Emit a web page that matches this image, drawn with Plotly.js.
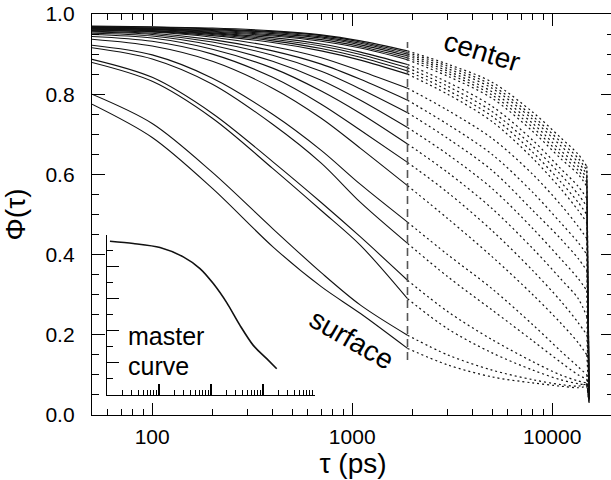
<!DOCTYPE html>
<html><head><meta charset="utf-8">
<script src="https://cdn.plot.ly/plotly-3.0.1.min.js"></script>
<style>html,body{margin:0;padding:0;overflow:hidden;background:#fff}#chart{width:616px;height:480px}</style>
</head><body><div id="chart"></div>
<script>
// ---- data ----
const TAU_SOLID = [50, 100, 200, 400, 700, 1100, 1890];
const TAU_DOTTED = [1890, 3000, 5000, 8000, 11000, 13500, 14900];
const TAU_END = [14900, 15300];

const PHI_SOLID = [
  [0.775, 0.692, 0.565, 0.420, 0.320, 0.253, 0.166],
  [0.800, 0.727, 0.605, 0.465, 0.355, 0.274, 0.199],
  [0.879, 0.832, 0.740, 0.615, 0.510, 0.423, 0.290],
  [0.887, 0.842, 0.752, 0.632, 0.530, 0.444, 0.336],
  [0.916, 0.888, 0.825, 0.725, 0.628, 0.530, 0.428],
  [0.922, 0.898, 0.840, 0.750, 0.660, 0.575, 0.481],
  [0.937, 0.920, 0.882, 0.815, 0.740, 0.665, 0.572],
  [0.944, 0.932, 0.900, 0.842, 0.775, 0.710, 0.630],
  [0.949, 0.940, 0.912, 0.865, 0.808, 0.752, 0.676],
  [0.952, 0.945, 0.922, 0.882, 0.835, 0.785, 0.717],
  [0.955, 0.949, 0.930, 0.897, 0.857, 0.813, 0.754],
  [0.957, 0.952, 0.936, 0.908, 0.875, 0.837, 0.785],
  [0.959, 0.955, 0.942, 0.919, 0.891, 0.858, 0.815],
  [0.960, 0.956, 0.946, 0.929, 0.908, 0.885, 0.850],
  [0.962, 0.958, 0.949, 0.933, 0.914, 0.892, 0.858],
  [0.963, 0.959, 0.951, 0.937, 0.920, 0.899, 0.866],
  [0.964, 0.961, 0.953, 0.941, 0.925, 0.905, 0.874],
  [0.965, 0.962, 0.955, 0.945, 0.932, 0.915, 0.886],
  [0.966, 0.963, 0.957, 0.948, 0.936, 0.919, 0.891],
  [0.967, 0.964, 0.959, 0.951, 0.940, 0.923, 0.896],
  [0.968, 0.965, 0.961, 0.954, 0.943, 0.927, 0.900],
  [0.969, 0.967, 0.963, 0.956, 0.946, 0.930, 0.904],
  [0.970, 0.968, 0.965, 0.958, 0.948, 0.933, 0.908]
];

const PHI_DOTTED = [
  [0.166, 0.125, 0.095, 0.080, 0.072, 0.068, 0.072],
  [0.199, 0.150, 0.112, 0.088, 0.076, 0.072, 0.078],
  [0.290, 0.215, 0.155, 0.112, 0.088, 0.078, 0.075],
  [0.336, 0.258, 0.188, 0.133, 0.100, 0.085, 0.080],
  [0.428, 0.345, 0.262, 0.185, 0.132, 0.100, 0.090],
  [0.481, 0.400, 0.315, 0.225, 0.160, 0.120, 0.100],
  [0.572, 0.490, 0.395, 0.300, 0.230, 0.180, 0.150],
  [0.630, 0.555, 0.460, 0.360, 0.285, 0.230, 0.200],
  [0.676, 0.605, 0.515, 0.415, 0.340, 0.290, 0.245],
  [0.717, 0.650, 0.565, 0.465, 0.390, 0.340, 0.310],
  [0.754, 0.690, 0.610, 0.510, 0.440, 0.390, 0.360],
  [0.785, 0.725, 0.650, 0.555, 0.480, 0.430, 0.400],
  [0.815, 0.760, 0.690, 0.600, 0.525, 0.470, 0.440],
  [0.850, 0.800, 0.732, 0.640, 0.565, 0.510, 0.480],
  [0.858, 0.810, 0.745, 0.655, 0.582, 0.530, 0.500],
  [0.866, 0.820, 0.757, 0.670, 0.600, 0.550, 0.520],
  [0.874, 0.830, 0.770, 0.685, 0.615, 0.570, 0.540],
  [0.886, 0.845, 0.790, 0.707, 0.640, 0.600, 0.570],
  [0.891, 0.852, 0.798, 0.717, 0.650, 0.610, 0.580],
  [0.896, 0.858, 0.806, 0.727, 0.660, 0.620, 0.590],
  [0.900, 0.864, 0.815, 0.737, 0.672, 0.630, 0.600],
  [0.904, 0.870, 0.822, 0.745, 0.682, 0.640, 0.610],
  [0.908, 0.875, 0.830, 0.755, 0.692, 0.650, 0.620]
];

const PHI_END = [0.030, 0.035, 0.030, 0.035, 0.035, 0.040, 0.040, 0.040, 0.040, 0.040,
                 0.040, 0.040, 0.040, 0.040, 0.040, 0.040, 0.040, 0.040, 0.040, 0.040,
                 0.040, 0.040, 0.040];

const TAU_SPLIT = [1890, 1890];
const PHI_SPLIT = [0.137, 0.930];

// inset (master curve), arbitrary inset units
const MASTER_X = [1.14, 3.2, 10.45, 29.3, 61.4, 110.7, 200.4, 361, 650, 1178, 1834];
const MASTER_Y = [0.958, 0.944, 0.919, 0.860, 0.787, 0.693, 0.574, 0.432, 0.307, 0.224, 0.161];

const X_TICKS = [100, 1000, 10000];
const X_TICK_TEXT = ['100', '1000', '10000'];
const X_TITLE = 'τ (ps)';
const Y_TITLE = 'Φ(τ)';
const LABEL_CENTER = 'center';
const LABEL_SURFACE = 'surface';
const LABEL_MASTER = ['master', 'curve'];

// ---- traces ----
const FONT = 'Liberation Sans, Arial, Helvetica, sans-serif';
const traces = [];
PHI_SOLID.forEach(function (ys) {
  traces.push({x: TAU_SOLID, y: ys, mode: 'lines', type: 'scatter', hoverinfo: 'skip',
    line: {color: '#111', width: 1.1, shape: 'spline', smoothing: 0.9}});
});
PHI_DOTTED.forEach(function (ys, i) {
  traces.push({x: TAU_DOTTED, y: ys, mode: 'lines', type: 'scatter', hoverinfo: 'skip',
    line: {color: '#111', width: 1.2, dash: '2px,3px', shape: 'spline', smoothing: 0.9}});
  traces.push({x: TAU_END, y: [ys[ys.length - 1], PHI_END[i]], mode: 'lines', type: 'scatter', hoverinfo: 'skip',
    line: {color: '#111', width: 1.2, dash: '2px,3px'}});
});
traces.push({x: TAU_SPLIT, y: PHI_SPLIT, mode: 'lines', type: 'scatter', hoverinfo: 'skip',
  line: {color: '#555', width: 1.6, dash: '8px,5px'}});
traces.push({x: MASTER_X, y: MASTER_Y, xaxis: 'x2', yaxis: 'y2', mode: 'lines', type: 'scatter', hoverinfo: 'skip',
  line: {color: '#111', width: 1.6, shape: 'spline', smoothing: 0.8}});

// ---- layout ----
const PL = 92, PR = 614, PT = 14, PB = 415;
function px(x) { return (x - PL) / (PR - PL); }
function py(y) { return (PB - y) / (PB - PT); }

const layout = {
  width: 616, height: 480,
  margin: {l: PL, r: 616 - PR, t: PT, b: 480 - PB},
  paper_bgcolor: '#fff', plot_bgcolor: 'rgba(0,0,0,0)',
  showlegend: false,
  font: {family: FONT, size: 21, color: '#000'},
  xaxis: {
    type: 'log', range: [Math.log10(50), Math.log10(50) + 2.61],
    showline: true, linecolor: '#000', linewidth: 1.2, mirror: 'ticks',
    ticks: 'inside', ticklen: 12, tickwidth: 1.2, tickcolor: '#000',
    tickmode: 'array', tickvals: X_TICKS, ticktext: X_TICK_TEXT,
    showgrid: false, zeroline: false,
    minor: {ticks: 'inside', ticklen: 6, tickwidth: 1, tickcolor: '#000', dtick: 'D1', showgrid: false},
    tickfont: {size: 21}, ticklabelstandoff: 3,
    title: {text: X_TITLE, font: {size: 28}, standoff: 2}
  },
  yaxis: {
    range: [0, 1], showline: true, linecolor: '#000', linewidth: 1.2, mirror: 'ticks',
    ticks: 'inside', ticklen: 13, tickwidth: 1.2, tickcolor: '#000',
    dtick: 0.2, tickformat: '.1f', showgrid: false, zeroline: false,
    minor: {ticks: 'inside', ticklen: 7, tickwidth: 1, tickcolor: '#000', dtick: 0.05, showgrid: false},
    tickfont: {size: 21}, ticklabelstandoff: 12,
    title: {text: Y_TITLE, font: {size: 28}, standoff: 12}
  },
  xaxis2: {
    type: 'log', range: [0, 4], domain: [px(107), px(315)], anchor: 'y2',
    showline: true, linecolor: '#000', linewidth: 1.2,
    ticks: 'inside', ticklen: 11, tickwidth: 1.1, tickcolor: '#000', dtick: 1,
    minor: {ticks: 'inside', ticklen: 5, tickwidth: 1, tickcolor: '#000', dtick: 'D1', showgrid: false},
    showticklabels: false, showgrid: false, zeroline: false
  },
  yaxis2: {
    range: [0, 1], domain: [py(394.5), py(234.5)], anchor: 'x2',
    showline: true, linecolor: '#000', linewidth: 1.2,
    ticks: 'inside', ticklen: 12, tickwidth: 1.1, tickcolor: '#000', dtick: 0.2,
    minor: {ticks: 'inside', ticklen: 6, tickwidth: 1, tickcolor: '#000', dtick: 0.1, showgrid: false},
    showticklabels: false, showgrid: false, zeroline: false
  },
  annotations: [
    {text: LABEL_CENTER, xref: 'paper', yref: 'paper', x: px(482), y: py(52), textangle: 17,
     showarrow: false, font: {size: 28}, xanchor: 'center', yanchor: 'middle'},
    {text: LABEL_SURFACE, xref: 'paper', yref: 'paper', x: px(352), y: py(339), textangle: 30,
     showarrow: false, font: {size: 28}, xanchor: 'center', yanchor: 'middle'},
    {text: LABEL_MASTER[0], xref: 'paper', yref: 'paper', x: px(127), y: py(351),
     showarrow: false, font: {size: 25}, xanchor: 'left', yanchor: 'bottom', borderpad: 0},
    {text: LABEL_MASTER[1], xref: 'paper', yref: 'paper', x: px(127), y: py(351),
     showarrow: false, font: {size: 25}, xanchor: 'left', yanchor: 'top', borderpad: 0}
  ]
};

Plotly.newPlot('chart', traces, layout, {staticPlot: true, displayModeBar: false});
</script>
</body></html>
